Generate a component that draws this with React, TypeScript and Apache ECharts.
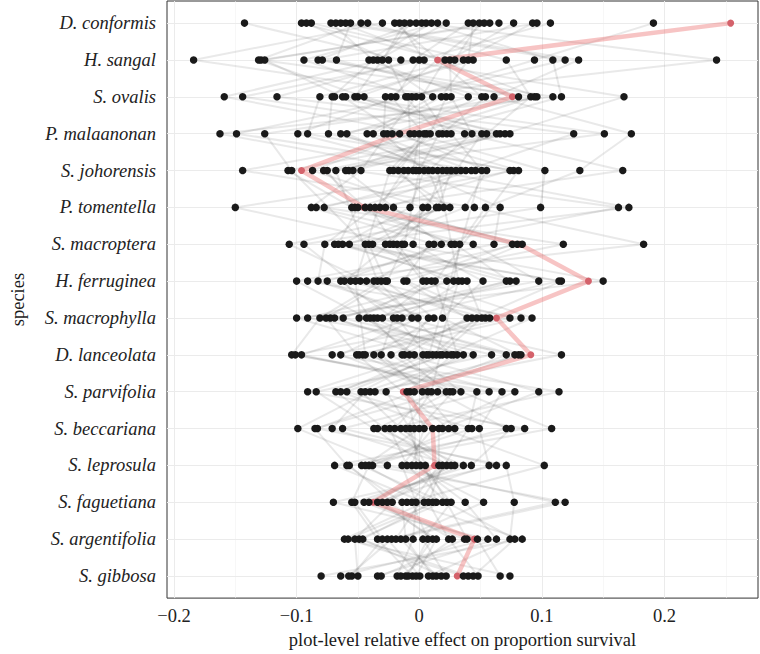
import React, { useEffect, useRef } from "react";
import * as echarts from "echarts";

const species = [
  "D. conformis", "H. sangal", "S. ovalis", "P. malaanonan", "S. johorensis",
  "P. tomentella", "S. macroptera", "H. ferruginea", "S. macrophylla", "D. lanceolata",
  "S. parvifolia", "S. beccariana", "S. leprosula", "S. faguetiana", "S. argentifolia", "S. gibbosa",
];

// plot-level effects per species (black points), listed plot by plot
const dConformis = [0.022, -0.088, 0.065, -0.016, 0.191, -0.056, 0.002, -0.1425, 0.049, -0.030, 0.0925, -0.0025, -0.068, 0.040, 0.010, -0.096, 0.0575, -0.042, 0.107, -0.012, -0.060, 0.015, 0.077, -0.072, 0.0056, -0.0475, 0.044, -0.092, 0.096, -0.0075, -0.020, 0.053, -0.064];
const hSangal = [-0.034, 0.044, -0.129, 0.004, 0.094, -0.0675, 0.2425, -0.015, 0.029, -0.184, 0.036, -0.0825, 0.119, -0.005, -0.041, 0.021, -0.126, 0.071, 0, -0.030, 0.130, -0.094, 0.025, -0.0375, 0.109, -0.131, 0.040, -0.025, -0.079];
const sOvalis = [0.011, -0.060, 0.094, -0.144, -0.006, 0.054, -0.0275, 0.167, -0.081, 0.022, -0.050, 0.109, -0.009, -0.116, 0.040, 0.002, -0.0625, 0.091, -0.019, -0.159, 0.061, -0.0025, 0.026, -0.071, 0.116, -0.045, 0.018, -0.011, 0.081, -0.0525, 0.051, -0.023, 0.096, -0.069];
const pMalaanonan = [-0.0425, 0.151, -0.004, 0.063, -0.149, 0.019, -0.029, 0.070, -0.091, 0.009, 0.037, -0.1625, -0.0075, 0.126, -0.059, 0.0225, -0.016, 0.055, -0.099, 0, 0.173, -0.026, 0.043, -0.074, 0.006, 0.066, -0.0375, 0.016, -0.126, 0.051, -0.022, 0.004, -0.064, 0.074, 0.026];
const sJohorensis = [0.026, -0.075, 0.1025, -0.0125, 0.046, -0.144, 0.004, -0.054, 0.077, -0.021, 0.166, -0.0025, -0.087, 0.038, 0.011, -0.060, 0.055, -0.107, 0.019, -0.005, 0.131, -0.0475, 0.0075, 0.074, -0.017, -0.078, 0.0425, 0, -0.104, 0.030, 0.081, -0.024, 0.015, -0.068, 0.051, -0.009, 0.0225, -0.0575, 0.034];
const pTomentella = [0.016, -0.0525, 0.099, -0.032, -0.150, 0.045, -0.0075, 0.1625, -0.084, 0.025, -0.040, 0.066, 0.003, -0.0775, 0.171, -0.021, 0.0375, -0.055, 0.007, -0.036, 0.054, -0.088, 0.020, -0.0275, 0.014, -0.044, -0.050];
const sMacroptera = [-0.041, 0.029, -0.094, 0.084, -0.014, 0.183, -0.0625, 0.008, 0.044, -0.106, -0.021, 0.061, -0.005, 0.1175, -0.069, 0.018, -0.038, 0.076, -0.0275, -0.077, 0.033, 0.012, -0.057, 0.080, -0.018, 0.026, -0.066, -0.012, -0.044, -0.024];
const hFerruginea = [-0.0275, 0.074, -0.056, 0.010, 0.150, -0.091, 0.035, -0.0125, 0.0975, -0.043, 0.003, -0.100, 0.052, -0.031, 0.116, -0.064, 0.0225, -0.010, 0.079, -0.0825, 0.028, -0.037, 0.114, -0.048, 0.006, -0.075, 0.039, -0.026, 0.071, -0.061, 0.013, -0.052, 0.032, -0.034];
const sMacrophylla = [0.012, -0.069, 0.054, -0.030, -0.100, 0.083, -0.014, 0.039, -0.0725, -0.001, 0.092, -0.043, 0.019, -0.081, 0.047, -0.021, -0.062, 0.0575, -0.037, 0.0075, -0.091, 0.074, -0.018, 0.043, -0.049, -0.006, 0.051, -0.076, -0.034, -0.040];
const dLanceolata = [-0.037, 0.019, -0.101, 0.071, 0.003, -0.049, 0.116, -0.012, 0.036, -0.064, 0.0225, -0.004, 0.081, -0.104, 0.011, -0.031, 0.059, -0.046, 0.028, -0.014, 0.083, -0.071, 0.006, -0.023, 0.044, -0.096, 0.017, -0.051, 0.078, -0.008, 0.031, -0.044, 0.014, 0.026, 0.008];
const sParvifolia = [0.007, -0.059, 0.057, -0.0075, -0.091, 0.025, -0.040, 0.0975, -0.027, 0.015, -0.068, 0.034, -0.004, 0.078, -0.0475, 0.0025, -0.084, 0.0675, -0.010, 0.022, -0.036, 0.114, -0.064, 0.0275, -0.044, 0.047, 0.010];
const sBeccariana = [-0.020, 0.043, -0.0625, 0.004, 0.086, -0.034, -0.099, 0.019, -0.0075, 0.071, -0.028, 0.108, -0.083, 0.011, -0.015, 0.029, -0.037, 0.049, -0.004, -0.085, 0.075, -0.024, 0.016, 0, -0.071, 0.040, -0.011, 0.024];
const sLeprosula = [0.0225, -0.047, 0.063, -0.006, -0.069, 0.036, -0.026, 0.102, 0.001, -0.041, 0.019, -0.057, 0.071, -0.014, 0.029, -0.038, 0.005, 0.057, -0.0025, -0.059, 0.0425, -0.010, 0.016, -0.044, 0.026];
const sFaguetiana = [-0.030, 0.019, -0.070, 0.0525, 0.004, -0.045, 0.111, -0.010, 0.026, -0.055, 0.0075, -0.022, 0.0775, -0.0025, -0.041, 0.119, 0.014, -0.034, 0.0375, -0.014, -0.0525, 0.0225, -0.006, 0.011, -0.026];
const sArgentifolia = [0.011, -0.049, 0.056, -0.015, -0.061, 0.037, -0.026, 0.084, 0.003, -0.034, 0.024, -0.0525, 0.074, -0.005, 0.0475, -0.0225, -0.058, 0.014, 0.063, -0.011, -0.030, 0.078, 0.007, -0.046, 0.027, -0.019, 0.039];
const sGibbosa = [-0.011, 0.040, -0.064, 0.014, 0.074, -0.031, 0.0005, -0.080, 0.022, -0.0055, 0.048, -0.050, 0.0075, -0.018, 0.066, -0.0575, 0.036, -0.0025, -0.034, 0.011, -0.055, 0.044, -0.009, 0.018, -0.015];

// the highlighted plot (red), one value per species, top to bottom
const highlightPlot = [0.254, 0.015, 0.076, -0.016, -0.096, -0.045, 0.082, 0.138, 0.063, 0.091, -0.013, 0.011, 0.0125, -0.0375, 0.045, 0.031];

const xTicks = [-0.2, -0.1, 0, 0.1, 0.2];
const xMinorTicks = [-0.15, -0.05, 0.05, 0.15, 0.25];

const speciesValues = [
  dConformis, hSangal, sOvalis, pMalaanonan, sJohorensis, pTomentella, sMacroptera, hFerruginea,
  sMacrophylla, dLanceolata, sParvifolia, sBeccariana, sLeprosula, sFaguetiana, sArgentifolia, sGibbosa,
];

const FONT = "'Liberation Serif', 'DejaVu Serif', serif";
const Y_MIN = -0.6;
const Y_MAX = species.length - 1 + 0.6;
const X_MIN = -0.2057;
const X_MAX = 0.2763;

export default function App() {
  const ref = useRef<HTMLDivElement>(null);
  useEffect(() => {
    if (!ref.current) return;
    const chart = echarts.init(ref.current, undefined, { renderer: "svg" });
    const yIdx = species.map((_, i) => i);

    const series: any[] = [];
    // grid lines
    series.push({
      type: "scatter",
      data: [],
      silent: true,
      z: 1,
      markLine: {
        silent: true,
        z: 1,
        symbol: ["none", "none"],
        label: { show: false },
        emphasis: { disabled: true },
        data: [
          ...xMinorTicks.map((v) => ({ xAxis: v, lineStyle: { color: "#f2f2f2", width: 0.6, type: "solid" } })),
          ...xTicks.map((v) => ({ xAxis: v, lineStyle: { color: "#ebebeb", width: 1, type: "solid" } })),
          ...yIdx.map((i) => ({ yAxis: i, lineStyle: { color: "#ebebeb", width: 1, type: "solid" } })),
        ],
      },
    });
    // plot lines
    const maxN = Math.max(...speciesValues.map((a) => a.length));
    for (let p = 0; p < maxN; p++) {
      const pts: number[][] = [];
      speciesValues.forEach((arr, s) => {
        if (p < arr.length) pts.push([arr[p], s]);
      });
      series.push({ type: "line", data: pts, symbol: "none", showSymbol: false, silent: true, lineStyle: { color: "rgba(70,70,70,0.12)", width: 2 }, z: 2 });
    }
    // highlighted plot
    series.push({
      type: "line",
      data: highlightPlot.map((v, s) => [v, s]),
      symbol: "circle",
      symbolSize: 7,
      silent: true,
      itemStyle: { color: "#d4626b" },
      lineStyle: { color: "rgba(235,115,115,0.42)", width: 4.5 },
      z: 3,
    });
    // points
    const pts: number[][] = [];
    speciesValues.forEach((arr, s) => arr.forEach((v) => pts.push([v, s])));
    series.push({ type: "scatter", data: pts, symbol: "circle", symbolSize: 7.5, itemStyle: { color: "#1a1a1a", opacity: 1 }, z: 6, silent: true });

    chart.setOption({
      animation: false,
      backgroundColor: "#ffffff",
      grid: { left: 157, right: 2, top: 1, bottom: 52, show: true, borderColor: "#333333", borderWidth: 1, containLabel: false },
      xAxis: {
        type: "value",
        min: X_MIN,
        max: X_MAX,
        name: "plot-level relative effect on proportion survival",
        nameLocation: "middle",
        nameGap: 31,
        nameTextStyle: { fontFamily: FONT, fontSize: 18.5, color: "#1a1a1a" },
        axisLine: { show: false },
        splitLine: { show: false },
        axisTick: { show: true, length: 4, lineStyle: { color: "#333333" }, customValues: xTicks },
        axisLabel: {
          customValues: xTicks,
          margin: 8,
          fontFamily: FONT,
          fontSize: 18.5,
          color: "#222222",
          formatter: (v: number) => (Math.abs(v) < 1e-9 ? "0" : (v < 0 ? "\u2212" : "") + Math.abs(v).toFixed(1)),
        },
      },
      yAxis: {
        type: "value",
        inverse: true,
        min: Y_MIN,
        max: Y_MAX,
        name: "species",
        nameLocation: "middle",
        nameRotate: 90,
        nameGap: 140,
        nameTextStyle: { fontFamily: FONT, fontSize: 18.5, color: "#1a1a1a" },
        axisLine: { show: false },
        splitLine: { show: false },
        axisTick: { show: true, length: 4, lineStyle: { color: "#333333" }, customValues: yIdx },
        axisLabel: {
          customValues: yIdx,
          margin: 11,
          fontFamily: FONT,
          fontStyle: "italic",
          fontSize: 18.5,
          color: "#222222",
          formatter: (v: number) => species[Math.round(v)] ?? "",
        },
      },
      series,
    });
    return () => chart.dispose();
  }, []);
  return <div ref={ref} style={{ position: "fixed", left: 0, top: 0, width: 760, height: 654 }} />;
}
